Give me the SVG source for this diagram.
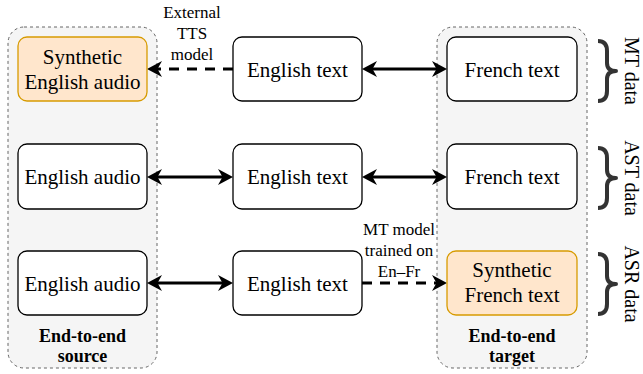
<svg xmlns="http://www.w3.org/2000/svg" width="643" height="374" viewBox="0 0 643 374">
<defs>
<style>
.cont{fill:#f5f5f5;stroke:#666;stroke-width:1;stroke-dasharray:3 3}
.box{fill:#fff;stroke:#000;stroke-width:1.3}
.syn{fill:#ffe6cc;stroke:#d79b00;stroke-width:1.3}
.t{font-family:"Liberation Serif","Times New Roman",serif;font-size:21px;fill:#000;text-anchor:middle}
.rt{font-family:"Liberation Serif","Times New Roman",serif;font-size:20px;fill:#000;text-anchor:middle}
.lbl{font-family:"Liberation Serif","Times New Roman",serif;font-size:17px;fill:#000;text-anchor:middle}
.bold{font-family:"Liberation Serif","Times New Roman",serif;font-size:18px;font-weight:bold;fill:#000;text-anchor:middle}
.e{fill:none;stroke:#000;stroke-width:3}
.d{stroke-dasharray:10 8}
.br{fill:none;stroke:#333;stroke-width:4;stroke-linejoin:round}
</style>
<marker id="ah" viewBox="0 0 15 16" refX="11" refY="8" markerWidth="15" markerHeight="16" markerUnits="userSpaceOnUse" orient="auto-start-reverse">
<path d="M15 8 L0 16 L4.5 8 L0 0 Z" fill="#000"/>
</marker>
</defs>

<g id="container-source">
<rect class="cont" x="8" y="27" width="149" height="341" rx="16"/>
<text class="bold" x="82.5" y="342">End-to-end</text>
<text class="bold" x="82.5" y="362">source</text>
</g>
<g id="container-target">
<rect class="cont" x="437" y="27" width="150" height="341" rx="16"/>
<text class="bold" x="512" y="342">End-to-end</text>
<text class="bold" x="512" y="362">target</text>
</g>

<g id="connectors">
<line class="e d" x1="233" y1="69" x2="151" y2="69" marker-end="url(#ah)"/>
<line class="e" x1="366" y1="69" x2="443" y2="69" marker-start="url(#ah)" marker-end="url(#ah)"/>
<line class="e" x1="151" y1="177" x2="229" y2="177" marker-start="url(#ah)" marker-end="url(#ah)"/>
<line class="e" x1="366" y1="177" x2="443" y2="177" marker-start="url(#ah)" marker-end="url(#ah)"/>
<line class="e" x1="151" y1="283" x2="229" y2="283" marker-start="url(#ah)" marker-end="url(#ah)"/>
<line class="e d" x1="362" y1="283" x2="443" y2="283" marker-end="url(#ah)"/>
<text class="lbl" x="192" y="18">External</text>
<text class="lbl" x="192" y="39">TTS</text>
<text class="lbl" x="192" y="60">model</text>
<text class="lbl" x="399" y="235">MT model</text>
<text class="lbl" x="399" y="256">trained on</text>
<text class="lbl" x="399" y="277">En–Fr</text>
</g>

<g id="syn-en-audio">
<rect class="syn" x="18" y="37" width="129" height="64" rx="9"/>
<text class="t" x="82.5" y="64">Synthetic</text>
<text class="t" x="82.5" y="89">English audio</text>
</g>
<g id="en-text-1">
<rect class="box" x="233" y="37" width="129" height="64" rx="9"/>
<text class="t" x="297.5" y="76.5">English text</text>
</g>
<g id="fr-text-1">
<rect class="box" x="447" y="37" width="130" height="64" rx="9"/>
<text class="t" x="512" y="76.5">French text</text>
</g>

<g id="en-audio-2">
<rect class="box" x="18" y="144" width="129" height="65" rx="9"/>
<text class="t" x="82.5" y="184">English audio</text>
</g>
<g id="en-text-2">
<rect class="box" x="233" y="144" width="129" height="65" rx="9"/>
<text class="t" x="297.5" y="184">English text</text>
</g>
<g id="fr-text-2">
<rect class="box" x="447" y="144" width="130" height="65" rx="9"/>
<text class="t" x="512" y="184">French text</text>
</g>

<g id="en-audio-3">
<rect class="box" x="18" y="251" width="129" height="64" rx="9"/>
<text class="t" x="82.5" y="290.5">English audio</text>
</g>
<g id="en-text-3">
<rect class="box" x="233" y="251" width="129" height="64" rx="9"/>
<text class="t" x="297.5" y="290.5">English text</text>
</g>
<g id="syn-fr-text">
<rect class="syn" x="447" y="251" width="130" height="64" rx="9"/>
<text class="t" x="512" y="277">Synthetic</text>
<text class="t" x="512" y="302">French text</text>
</g>

<g id="brace-mt">
<path class="br" d="M598 41 Q607 41 607 51 L607 63 Q607 71 616 71 Q607 71 607 79 L607 91 Q607 101 598 101"/>
<text class="rt" transform="translate(625 71) rotate(90)">MT data</text>
</g>
<g id="brace-ast">
<path class="br" d="M598 148 Q607 148 607 158 L607 170 Q607 178 616 178 Q607 178 607 186 L607 198 Q607 208 598 208"/>
<text class="rt" transform="translate(625 178) rotate(90)">AST data</text>
</g>
<g id="brace-asr">
<path class="br" d="M598 254 Q607 254 607 264 L607 276 Q607 284 616 284 Q607 284 607 292 L607 304 Q607 314 598 314"/>
<text class="rt" transform="translate(625 284) rotate(90)">ASR data</text>
</g>
</svg>
